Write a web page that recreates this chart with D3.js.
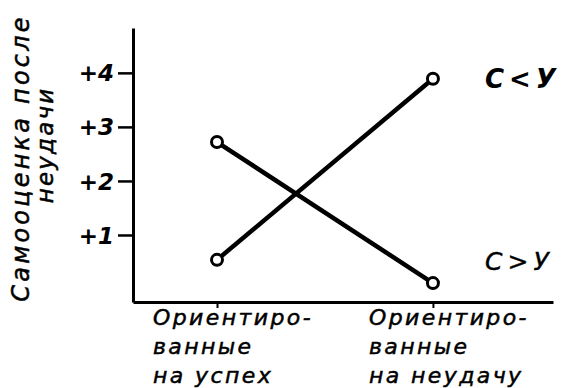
<!DOCTYPE html>
<html>
<head>
<meta charset="utf-8">
<script src="https://cdn.jsdelivr.net/npm/d3@7"></script>
<style>
  body { margin: 0; background: #fff; }
  text { font-family: "DejaVu Sans", sans-serif; font-style: italic; fill: #000; }
</style>
</head>
<body>
<svg width="563" height="388"></svg>
<script>
// данные
var groups = ["Ориентиро-|ванные|на успех", "Ориентиро-|ванные|на неудачу"];
var yTicks = [1, 2, 3, 4];
var seriesNames = ["C<У", "C>У"];
var lessValues = [0.54, 3.89];    // C<У
var greaterValues = [2.72, 0.11]; // C>У

var svg = d3.select("svg");

var x = d3.scaleLinear().domain([-0.389, 1.556]).range([133, 553]);
var y = d3.scaleLinear().domain([-0.24, 4.83]).range([302, 28]);

// оси
var gy = svg.append("g")
  .attr("transform", "translate(133,0)")
  .call(d3.axisLeft(y).tickValues(yTicks).tickSize(15).tickSizeOuter(0).tickPadding(4)
    .tickFormat(function(d) { return "+" + d; }));
gy.select(".domain").attr("stroke-width", 3);
gy.selectAll(".tick line").attr("stroke-width", 2.5);
gy.selectAll(".tick text")
  .style("font-size", "23px").style("font-weight", "bold")
  .attr("font-family", null).attr("dy", "0.35em");

var gx = svg.append("g")
  .attr("transform", "translate(0,302)")
  .call(d3.axisBottom(x).tickValues([0, 1]).tickSize(6).tickSizeOuter(0).tickFormat(""));
gx.select(".domain").attr("stroke-width", 3);
gx.selectAll(".tick line").attr("stroke-width", 2);

// подписи категорий
groups.forEach(function(g, i) {
  var t = svg.append("text")
    .attr("x", x(i) - 64)
    .attr("y", 325)
    .style("font-size", "22px")
    .style("letter-spacing", "2.4px")
    .attr("stroke", "#000").attr("stroke-width", 0.5);
  g.split("|").forEach(function(line, j) {
    t.append("tspan").attr("x", x(i) - 64).attr("dy", j === 0 ? 0 : 29).text(line);
  });
});

// подпись оси Y
svg.append("text")
  .attr("transform", "translate(29,158) rotate(-90)")
  .attr("text-anchor", "middle")
  .style("font-size", "24px")
  .style("letter-spacing", "3.2px")
  .attr("stroke", "#000").attr("stroke-width", 0.5)
  .text("Самооценка после");
svg.append("text")
  .attr("transform", "translate(53,145) rotate(-90)")
  .attr("text-anchor", "middle")
  .style("font-size", "23px")
  .style("letter-spacing", "2.2px")
  .attr("stroke", "#000").attr("stroke-width", 0.5)
  .text("неудачи");

// линии
var line = d3.line().x(function(d, i) { return x(i); }).y(function(d) { return y(d); });
[lessValues, greaterValues].forEach(function(vals) {
  svg.append("path")
    .attr("d", line(vals))
    .attr("fill", "none")
    .attr("stroke", "#000")
    .attr("stroke-width", 4.5);
  svg.selectAll(null)
    .data(vals)
    .enter().append("circle")
    .attr("cx", function(d, i) { return x(i); })
    .attr("cy", function(d) { return y(d); })
    .attr("r", 5.5)
    .attr("fill", "#fff")
    .attr("stroke", "#000")
    .attr("stroke-width", 3);
});

// подписи серий
svg.append("text")
  .attr("x", 485).attr("y", y(lessValues[1]) + 9)
  .style("font-size", "26px").style("font-weight", "bold")
  .style("letter-spacing", "5px")
  .text(seriesNames[0]);
svg.append("text")
  .attr("x", 485).attr("y", y(greaterValues[1]) - 13)
  .style("font-size", "25px")
  .style("letter-spacing", "5px")
  .attr("stroke", "#000").attr("stroke-width", 0.4)
  .text(seriesNames[1]);
</script>
</body>
</html>
